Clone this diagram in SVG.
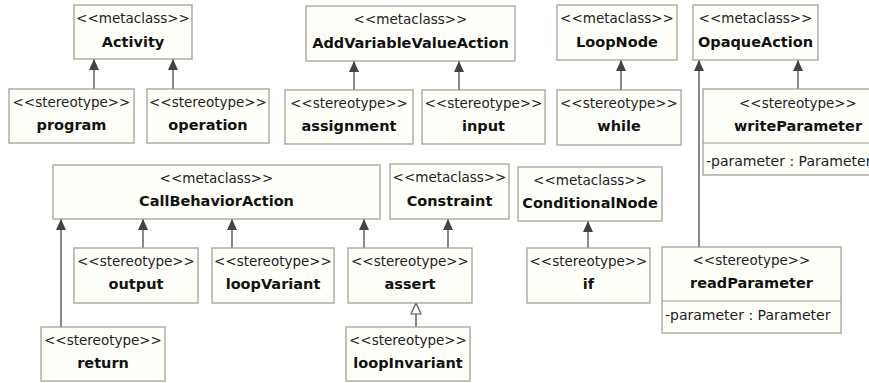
<svg xmlns="http://www.w3.org/2000/svg" width="869" height="383" viewBox="0 0 869 383">
<style>
.bg{fill:#ffffff}
.box{fill:#fffffa;stroke:#9a9a8c;stroke-width:1.2}
.div{stroke:#9a9a8c;stroke-width:1.2}
.st{font-family:"DejaVu Sans",Verdana,sans-serif;font-size:13.5px;fill:#222;text-anchor:middle}
.nm{font-family:"DejaVu Sans",Verdana,sans-serif;font-size:14.5px;font-weight:bold;fill:#111;text-anchor:middle}
.at{font-family:"DejaVu Sans",Verdana,sans-serif;font-size:14px;fill:#222}
.ln{stroke:#555;stroke-width:1.4;fill:none}
</style>
<defs>
<marker id="fill" viewBox="0 0 11 10" refX="11" refY="5" markerWidth="11" markerHeight="10" markerUnits="userSpaceOnUse" orient="auto">
<path d="M0,0 L11,5 L0,10 z" fill="#444"/>
</marker>
<marker id="hollow" viewBox="-1 -1 13 12" refX="11" refY="5" markerWidth="13" markerHeight="12" markerUnits="userSpaceOnUse" orient="auto">
<path d="M0,0 L11,5 L0,10 z" fill="#fff" stroke="#555" stroke-width="1.2"/>
</marker>
</defs>
<rect class="bg" x="0" y="0" width="869" height="383"/>
<g id="connectors">
<line class="ln" x1="94" y1="89" x2="94" y2="59" marker-end="url(#fill)"/>
<line class="ln" x1="173" y1="89" x2="173" y2="59" marker-end="url(#fill)"/>
<line class="ln" x1="354" y1="90" x2="354" y2="61" marker-end="url(#fill)"/>
<line class="ln" x1="459" y1="90" x2="459" y2="61" marker-end="url(#fill)"/>
<line class="ln" x1="621" y1="90" x2="621" y2="60" marker-end="url(#fill)"/>
<line class="ln" x1="798" y1="89" x2="798" y2="60" marker-end="url(#fill)"/>
<line class="ln" x1="699" y1="247" x2="699" y2="60" marker-end="url(#fill)"/>
<line class="ln" x1="61" y1="327" x2="61" y2="219" marker-end="url(#fill)"/>
<line class="ln" x1="143" y1="248" x2="143" y2="219" marker-end="url(#fill)"/>
<line class="ln" x1="232" y1="248" x2="232" y2="219" marker-end="url(#fill)"/>
<line class="ln" x1="364" y1="248" x2="364" y2="219" marker-end="url(#fill)"/>
<line class="ln" x1="448" y1="248" x2="448" y2="219" marker-end="url(#fill)"/>
<line class="ln" x1="588" y1="248" x2="588" y2="221" marker-end="url(#fill)"/>
<line class="ln" x1="416" y1="327" x2="416" y2="303" marker-end="url(#hollow)"/>
</g>
<g id="Activity"><rect class="box" x="74" y="5" width="118" height="54"/><text class="st" x="133" y="23">&lt;&lt;metaclass&gt;&gt;</text><text class="nm" x="133" y="47">Activity</text></g>
<g id="program"><rect class="box" x="9" y="89" width="125" height="54"/><text class="st" x="71.5" y="107">&lt;&lt;stereotype&gt;&gt;</text><text class="nm" x="71.5" y="130">program</text></g>
<g id="operation"><rect class="box" x="147" y="89" width="122" height="54"/><text class="st" x="208" y="107">&lt;&lt;stereotype&gt;&gt;</text><text class="nm" x="208" y="130">operation</text></g>
<g id="AddVariableValueAction"><rect class="box" x="306" y="6" width="209" height="55"/><text class="st" x="410.5" y="24">&lt;&lt;metaclass&gt;&gt;</text><text class="nm" x="410.5" y="48">AddVariableValueAction</text></g>
<g id="assignment"><rect class="box" x="285" y="90" width="128" height="54"/><text class="st" x="349" y="108">&lt;&lt;stereotype&gt;&gt;</text><text class="nm" x="349" y="131">assignment</text></g>
<g id="input"><rect class="box" x="422" y="90" width="123" height="54"/><text class="st" x="483.5" y="108">&lt;&lt;stereotype&gt;&gt;</text><text class="nm" x="483.5" y="131">input</text></g>
<g id="LoopNode"><rect class="box" x="557" y="5" width="120" height="55"/><text class="st" x="617" y="23">&lt;&lt;metaclass&gt;&gt;</text><text class="nm" x="617" y="47">LoopNode</text></g>
<g id="while"><rect class="box" x="557" y="90" width="124" height="55"/><text class="st" x="619" y="108">&lt;&lt;stereotype&gt;&gt;</text><text class="nm" x="619" y="131">while</text></g>
<g id="OpaqueAction"><rect class="box" x="693" y="5" width="125" height="55"/><text class="st" x="755.5" y="23">&lt;&lt;metaclass&gt;&gt;</text><text class="nm" x="755.5" y="47">OpaqueAction</text></g>
<g id="writeParameter"><rect class="box" x="703" y="89" width="190" height="86"/><line class="div" x1="703" y1="143" x2="893" y2="143"/><text class="st" x="798" y="108">&lt;&lt;stereotype&gt;&gt;</text><text class="nm" x="798" y="131">writeParameter</text><text class="at" x="706" y="166">-parameter : Parameter</text></g>
<g id="readParameter"><rect class="box" x="662" y="247" width="179" height="86"/><line class="div" x1="662" y1="301" x2="841" y2="301"/><text class="st" x="751.5" y="265">&lt;&lt;stereotype&gt;&gt;</text><text class="nm" x="751.5" y="288">readParameter</text><text class="at" x="665" y="320">-parameter : Parameter</text></g>
<g id="CallBehaviorAction"><rect class="box" x="53" y="165" width="327" height="54"/><text class="st" x="216.5" y="183">&lt;&lt;metaclass&gt;&gt;</text><text class="nm" x="216.5" y="206">CallBehaviorAction</text></g>
<g id="output"><rect class="box" x="74" y="248" width="124" height="55"/><text class="st" x="136" y="266">&lt;&lt;stereotype&gt;&gt;</text><text class="nm" x="136" y="289">output</text></g>
<g id="loopVariant"><rect class="box" x="212" y="248" width="122" height="55"/><text class="st" x="273" y="266">&lt;&lt;stereotype&gt;&gt;</text><text class="nm" x="273" y="289">loopVariant</text></g>
<g id="return"><rect class="box" x="41" y="327" width="124" height="54"/><text class="st" x="103" y="345">&lt;&lt;stereotype&gt;&gt;</text><text class="nm" x="103" y="368">return</text></g>
<g id="Constraint"><rect class="box" x="390" y="164" width="119" height="55"/><text class="st" x="449.5" y="182">&lt;&lt;metaclass&gt;&gt;</text><text class="nm" x="449.5" y="206">Constraint</text></g>
<g id="assert"><rect class="box" x="348" y="248" width="124" height="55"/><text class="st" x="410" y="266">&lt;&lt;stereotype&gt;&gt;</text><text class="nm" x="410" y="289">assert</text></g>
<g id="loopInvariant"><rect class="box" x="346" y="327" width="124" height="54"/><text class="st" x="408" y="345">&lt;&lt;stereotype&gt;&gt;</text><text class="nm" x="408" y="368">loopInvariant</text></g>
<g id="ConditionalNode"><rect class="box" x="518" y="167" width="144" height="54"/><text class="st" x="590" y="185">&lt;&lt;metaclass&gt;&gt;</text><text class="nm" x="590" y="208">ConditionalNode</text></g>
<g id="if"><rect class="box" x="527" y="248" width="123" height="55"/><text class="st" x="588.5" y="266">&lt;&lt;stereotype&gt;&gt;</text><text class="nm" x="588.5" y="289">if</text></g>
</svg>
